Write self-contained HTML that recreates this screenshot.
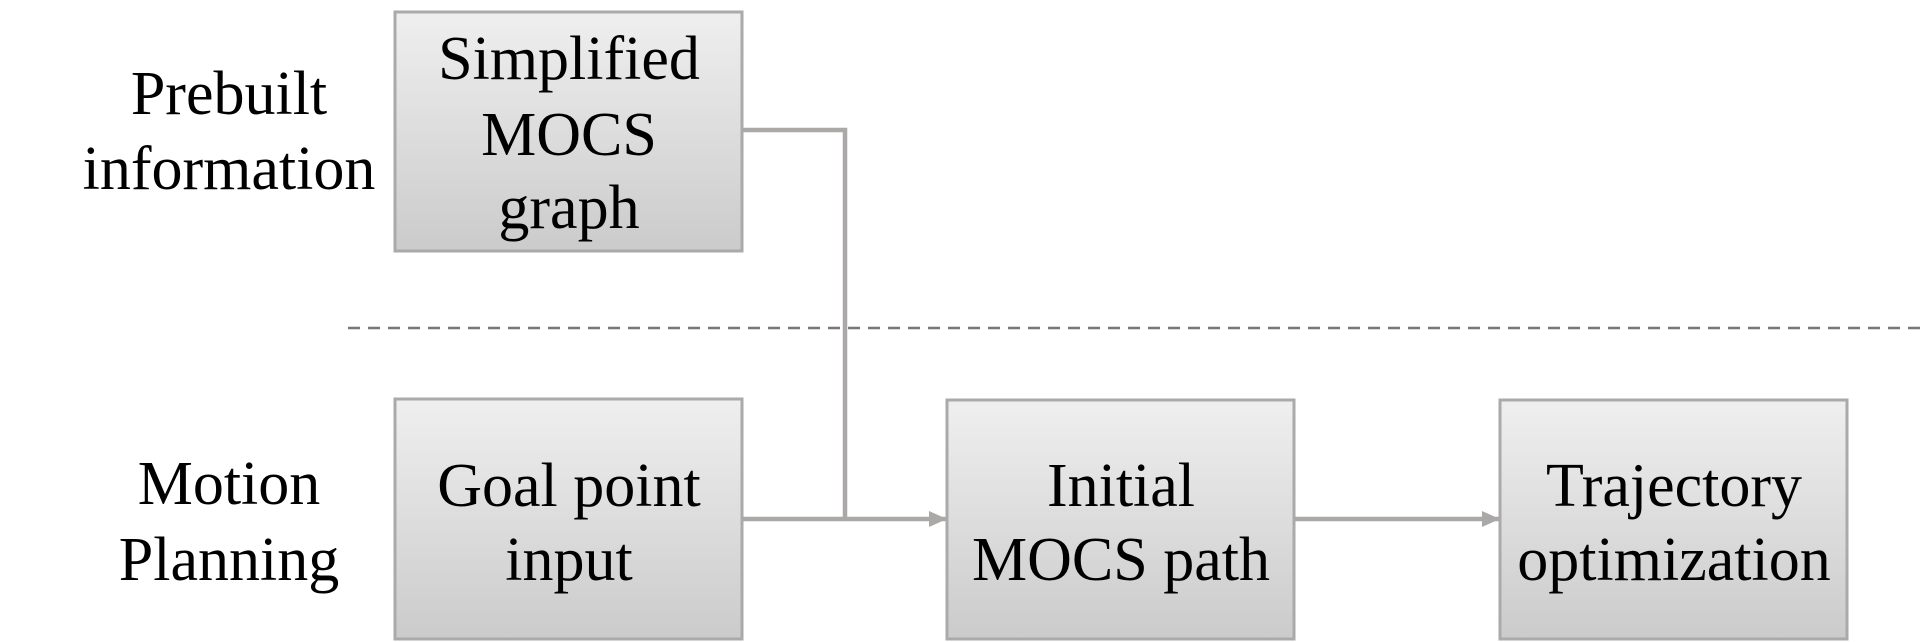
<!DOCTYPE html>
<html><head><style>html,body{margin:0;padding:0;background:#fff;}svg{display:block}</style></head>
<body>
<svg width="1920" height="642" viewBox="0 0 1920 642" xmlns="http://www.w3.org/2000/svg" font-family="'Liberation Serif', serif" font-size="62" fill="#000">
<defs>
<linearGradient id="g" x1="0" y1="0" x2="0" y2="1"><stop offset="0" stop-color="#efefef"/><stop offset="1" stop-color="#cbcbcb"/></linearGradient>
<marker id="a" markerWidth="18" markerHeight="16" refX="17" refY="8" orient="auto" markerUnits="userSpaceOnUse"><path d="M0,0 L18,8 L0,16 Z" fill="#aba8a8"/></marker>
</defs>
<line x1="348" y1="328" x2="1920" y2="328" stroke="#777" stroke-width="2.5" stroke-dasharray="12,8"/>
<rect x="395" y="12" width="347" height="239" fill="url(#g)" stroke="#aaa" stroke-width="3"/>
<rect x="395" y="399" width="347" height="240" fill="url(#g)" stroke="#aaa" stroke-width="3"/>
<rect x="947" y="400" width="347" height="239" fill="url(#g)" stroke="#aaa" stroke-width="3"/>
<rect x="1500" y="400" width="347" height="239" fill="url(#g)" stroke="#aaa" stroke-width="3"/>
<polyline points="742,130 845,130 845,519" fill="none" stroke="#aba8a8" stroke-width="4.5"/>
<line x1="742" y1="519" x2="946" y2="519" stroke="#aba8a8" stroke-width="4.5" marker-end="url(#a)"/>
<line x1="1294" y1="519" x2="1499" y2="519" stroke="#aba8a8" stroke-width="4.5" marker-end="url(#a)"/>
<g text-anchor="middle" dominant-baseline="central">
<text x="229" y="94">Prebuilt</text>
<text x="229" y="169">information</text>
<text x="229" y="484">Motion</text>
<text x="229" y="560">Planning</text>
<text x="569" y="59">Simplified</text>
<text x="569" y="135">MOCS</text>
<text x="569" y="208">graph</text>
<text x="569" y="486">Goal point</text>
<text x="569" y="560">input</text>
<text x="1121" y="486">Initial</text>
<text x="1121" y="560">MOCS path</text>
<text x="1674" y="486">Trajectory</text>
<text x="1674" y="560">optimization</text>
</g>
</svg>
</body></html>
